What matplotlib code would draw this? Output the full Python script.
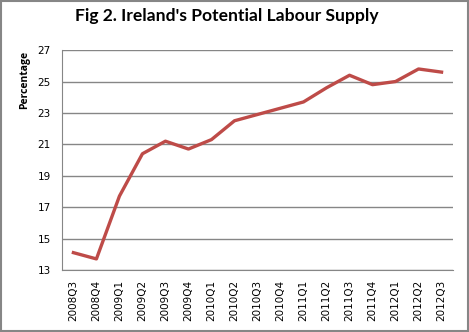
import matplotlib
matplotlib.use('Agg')
import matplotlib.pyplot as plt
from matplotlib.patches import Rectangle

# Datos
trimestres = ['2008Q3', '2008Q4', '2009Q1', '2009Q2', '2009Q3', '2009Q4',
              '2010Q1', '2010Q2', '2010Q3', '2010Q4', '2011Q1', '2011Q2',
              '2011Q3', '2011Q4', '2012Q1', '2012Q2', '2012Q3']
oferta = [14.1, 13.7, 17.7, 20.4, 21.2, 20.7, 21.3, 22.5, 22.9, 23.3,
          23.7, 24.6, 25.4, 24.8, 25.0, 25.8, 25.6]
ticksY = [13, 15, 17, 19, 21, 23, 25, 27]

fig = plt.figure(figsize=(4.69, 3.32), dpi=100)
ax = fig.add_axes([0.132, 0.187, 0.834, 0.662])

x = list(range(len(trimestres)))
ax.plot(x, oferta, color='#BE4B48', linewidth=2.4, solid_joinstyle='round')

ax.set_xlim(-0.5, len(trimestres) - 0.5)
ax.set_ylim(13, 27)
ax.set_yticks(ticksY)
ax.set_xticks(x)
ax.set_xticklabels(trimestres, rotation=90, fontsize=7.5, family='DejaVu Sans')
ax.tick_params(axis='y', labelsize=7.5, length=0, pad=8)
ax.tick_params(axis='x', length=0, pad=7)
ax.yaxis.grid(True, color='#868686', linewidth=1)
ax.set_axisbelow(True)
for lado in ['top', 'right']:
    ax.spines[lado].set_visible(False)
ax.spines['left'].set_color('#868686')
ax.spines['bottom'].set_color('#868686')

fig.text(0.484, 0.953, "Fig 2. Ireland's Potential Labour Supply", ha='center', va='center',
         fontsize=12.6, fontweight='bold', family='Lato')
fig.text(0.053, 0.76, 'Percentage', rotation=90, ha='center', va='center',
         fontsize=7.5, fontweight='bold', family='Open Sans')

fig.patches.append(Rectangle((0.002, 0.003), 0.995, 0.994, transform=fig.transFigure,
                             fill=False, edgecolor='#868686', linewidth=1.5))

fig.savefig('out.png', dpi=100)
